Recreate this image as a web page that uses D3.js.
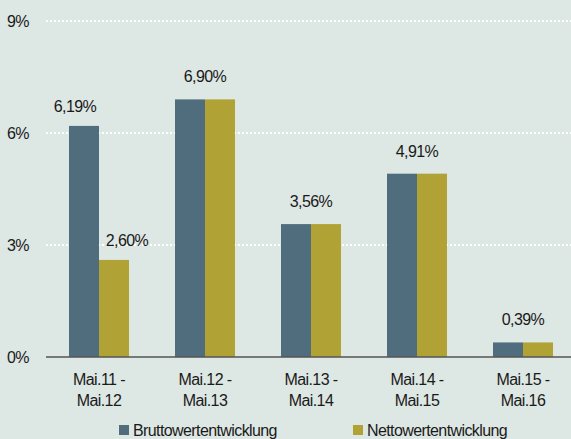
<!DOCTYPE html>
<html>
<head>
<meta charset="utf-8">
<script src="https://cdn.jsdelivr.net/npm/d3@7"></script>
<style>
  html, body { margin: 0; padding: 0; background: #dde7e3; }
  svg { display: block; font-family: "Liberation Sans Narrow", "Liberation Sans", Arial, sans-serif; letter-spacing: -0.6px; }
</style>
</head>
<body>
<svg id="chart" width="571" height="439"></svg>
<script>
const categories = [['Mai.11 -', 'Mai.12'], ['Mai.12 -', 'Mai.13'], ['Mai.13 -', 'Mai.14'], ['Mai.14 -', 'Mai.15'], ['Mai.15 -', 'Mai.16']]
const seriesNames = ['Bruttowertentwicklung', 'Nettowertentwicklung']
const brutto = [6.19, 6.90, 3.56, 4.91, 0.39]
const netto = [2.60, 6.90, 3.56, 4.91, 0.39]
const yTicks = [0, 3, 6, 9]
const colors = ['#4f6d7d', '#b0a235']

const svg = d3.select('#chart')
const plotLeft = 46
const plotRight = 576
const plotTop = 21
const plotBottom = 357

const x = d3.scaleBand().domain(d3.range(categories.length)).range([plotLeft, plotRight])
const x1 = d3.scaleBand().domain([0, 1]).range([0, 60])
const y = d3.scaleLinear().domain([0, 9]).range([plotBottom, plotTop])
const fmt = (v) => v.toFixed(2).replace('.', ',') + '%'

// gridlines
svg.append('g')
  .selectAll('line')
  .data(yTicks.filter((t) => t > 0))
  .enter()
  .append('line')
  .attr('x1', plotLeft)
  .attr('x2', 571)
  .attr('y1', (d) => y(d))
  .attr('y2', (d) => y(d))
  .attr('stroke', '#fff')
  .attr('stroke-width', 2)
  .attr('stroke-dasharray', '2,2')

// y tick labels
svg.append('g')
  .selectAll('text')
  .data(yTicks)
  .enter()
  .append('text')
  .attr('x', 29)
  .attr('y', (d) => y(d) + 6)
  .attr('text-anchor', 'end')
  .attr('font-size', 16)
  .attr('fill', '#1a1a1a')
  .text((d) => d + '%')

// bars
const groups = svg.append('g')
  .selectAll('g')
  .data(categories.map((c, i) => ({ i, values: [brutto[i], netto[i]] })))
  .enter()
  .append('g')
  .attr('transform', (d) => `translate(${x(d.i) + (x.bandwidth() - 60) / 2},0)`)

groups.selectAll('rect')
  .data((d) => d.values)
  .enter()
  .append('rect')
  .attr('x', (d, j) => x1(j))
  .attr('width', x1.bandwidth())
  .attr('y', (d) => y(d))
  .attr('height', (d) => plotBottom - y(d))
  .attr('fill', (d, j) => colors[j])

// value labels: one per bar if they differ, else one centred over the group
groups.each(function (d) {
  const g = d3.select(this)
  if (d.values[0] !== d.values[1]) {
    const shift = [-9, 13]
    d.values.forEach((v, j) => {
      g.append('text')
        .attr('x', x1(j) + x1.bandwidth() / 2 + shift[j])
        .attr('y', y(v) - 14)
        .attr('text-anchor', 'middle')
        .attr('font-size', 16)
        .attr('fill', '#1a1a1a')
        .text(fmt(v))
    })
  } else {
    g.append('text')
      .attr('x', 30)
      .attr('y', y(d.values[0]) - 17)
      .attr('text-anchor', 'middle')
      .attr('font-size', 16)
      .attr('fill', '#1a1a1a')
      .text(fmt(d.values[0]))
  }
})

// baseline
svg.append('line')
  .attr('x1', plotLeft)
  .attr('x2', 571)
  .attr('y1', plotBottom)
  .attr('y2', plotBottom)
  .attr('stroke', '#555')
  .attr('stroke-width', 1.5)

// category labels
const cat = svg.append('g')
  .selectAll('text')
  .data(categories)
  .enter()
  .append('text')
  .attr('text-anchor', 'middle')
  .attr('font-size', 16)
  .attr('fill', '#1a1a1a')
  .attr('transform', (d, i) => `translate(${x(i) + x.bandwidth() / 2},0)`)

cat.selectAll('tspan')
  .data((d) => d)
  .enter()
  .append('tspan')
  .attr('x', 0)
  .attr('y', (d, k) => 385 + k * 21)
  .text((d) => d)

// legend
const legendX = [119, 353]
const legend = svg.append('g')
  .selectAll('g')
  .data(seriesNames)
  .enter()
  .append('g')
  .attr('transform', (d, i) => `translate(${legendX[i]},425)`)

legend.append('rect')
  .attr('width', 10)
  .attr('height', 10)
  .attr('fill', (d, i) => colors[i])

legend.append('text')
  .attr('x', 14)
  .attr('y', 11)
  .attr('font-size', 16)
  .attr('fill', '#1a1a1a')
  .text((d) => d)
</script>
</body>
</html>
